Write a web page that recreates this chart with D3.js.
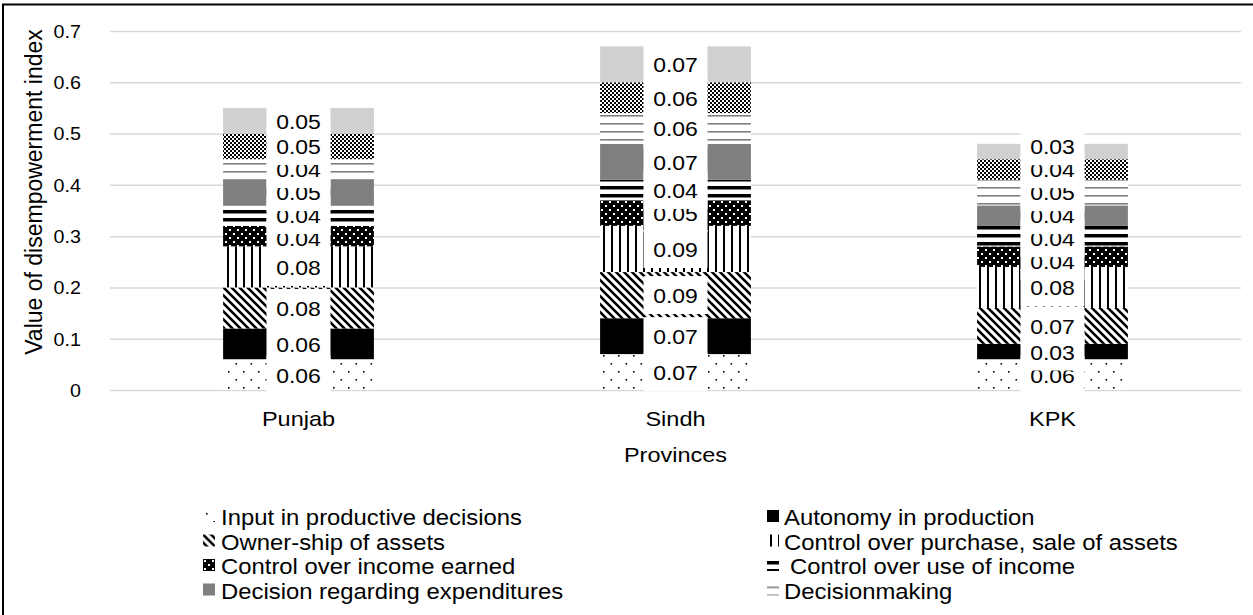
<!DOCTYPE html>
<html>
<head>
<meta charset="utf-8">
<script src="https://cdn.jsdelivr.net/npm/d3@7"></script>
<style>
  html, body { margin: 0; padding: 0; background: #fff; }
  svg { display: block; }
  text { font-family: "Liberation Sans", Arial, sans-serif; fill: #000; }
</style>
</head>
<body>
<svg id="chart" width="1253" height="615"></svg>
<script>
// ---- data ----
const provinces = ["Punjab", "Sindh", "KPK"];

const indicatorNames = [
  "Input in productive decisions",
  "Autonomy in production",
  "Owner-ship of assets",
  "Control over purchase, sale of assets",
  "Control over income earned",
  "Control over use of income",
  "Decision regarding expenditures",
  "Decisionmaking",
  "Group membership",
  "Workload"
];

// values per province (Punjab, Sindh, KPK)
const inputDecisions   = [0.06, 0.07, 0.06];
const autonomy         = [0.06, 0.07, 0.03];
const ownership        = [0.08, 0.09, 0.07];
const purchaseSale     = [0.08, 0.09, 0.08];
const incomeEarned     = [0.04, 0.05, 0.04];
const useOfIncome      = [0.04, 0.04, 0.04];
const expenditures     = [0.05, 0.07, 0.04];
const decisionmaking   = [0.04, 0.06, 0.05];
const groupMembership  = [0.05, 0.06, 0.04];
const workload         = [0.05, 0.07, 0.03];

const yTickValues = [0, 0.1, 0.2, 0.3, 0.4, 0.5, 0.6, 0.7];
const yTickLabels = ["0", "0.1", "0.2", "0.3", "0.4", "0.5", "0.6", "0.7"];

// legend shows the first eight indicators, in two columns
const legendLeft  = ["Input in productive decisions", "Owner-ship of assets",
                     "Control over income earned", "Decision regarding expenditures"];
const legendRight = ["Autonomy in production", "Control over purchase, sale of assets",
                     "Control over use of income", "Decisionmaking"];

// ---- build table for the stack ----
const columns = [inputDecisions, autonomy, ownership, purchaseSale, incomeEarned,
                 useOfIncome, expenditures, decisionmaking, groupMembership, workload];
const table = provinces.map((p, i) => {
  const row = { province: p };
  indicatorNames.forEach((n, k) => { row[n] = columns[k][i]; });
  return row;
});
const stacked = d3.stack().keys(indicatorNames)(table);

// ---- canvas ----
const svg = d3.select("#chart");
const W = 1253, H = 615;
const SX = 1.12; // horizontal text stretch

svg.append("rect").attr("width", W).attr("height", H).attr("fill", "#fff");

// ---- fill patterns ----
const defs = svg.append("defs");
function makePattern(id, w, h, bg, draw) {
  const p = defs.append("pattern").attr("id", id)
    .attr("patternUnits", "userSpaceOnUse").attr("width", w).attr("height", h);
  p.append("rect").attr("width", w).attr("height", h).attr("fill", bg);
  draw(p);
}
makePattern("pInput", 15, 16, "#fff", p => {
  p.append("rect").attr("x", 3).attr("y", 3).attr("width", 1.6).attr("height", 1.6).attr("fill", "#000");
  p.append("rect").attr("x", 10.5).attr("y", 11).attr("width", 1.6).attr("height", 1.6).attr("fill", "#000");
});
makePattern("pOwn", 8, 8, "#fff", p => {
  p.append("path").attr("d", "M-1,-1L9,9M-5,3L5,13M3,-5L13,5")
    .attr("stroke", "#000").attr("stroke-width", 2.6);
});
makePattern("pPurchase", 8, 8, "#fff", p => {
  p.append("rect").attr("x", 3).attr("y", 0).attr("width", 2).attr("height", 8).attr("fill", "#000");
});
makePattern("pEarned", 8, 8, "#000", p => {
  p.append("rect").attr("x", 1).attr("y", 1).attr("width", 2).attr("height", 2).attr("fill", "#fff");
  p.append("rect").attr("x", 5).attr("y", 5).attr("width", 2).attr("height", 2).attr("fill", "#fff");
});
makePattern("pUse", 8, 8, "#fff", p => {
  p.append("rect").attr("x", 0).attr("y", 2).attr("width", 8).attr("height", 3.5).attr("fill", "#000");
});
makePattern("pDecision", 8, 8, "#fff", p => {
  p.append("rect").attr("x", 0).attr("y", 3).attr("width", 8).attr("height", 1.6).attr("fill", "#7f7f7f");
});
makePattern("pChecker", 4, 4, "#fff", p => {
  p.append("rect").attr("x", 0).attr("y", 0).attr("width", 2).attr("height", 2).attr("fill", "#000");
  p.append("rect").attr("x", 2).attr("y", 2).attr("width", 2).attr("height", 2).attr("fill", "#000");
});

const fills = {
  "Input in productive decisions": "url(#pInput)",
  "Autonomy in production": "#000",
  "Owner-ship of assets": "url(#pOwn)",
  "Control over purchase, sale of assets": "url(#pPurchase)",
  "Control over income earned": "url(#pEarned)",
  "Control over use of income": "url(#pUse)",
  "Decision regarding expenditures": "#7f7f7f",
  "Decisionmaking": "url(#pDecision)",
  "Group membership": "url(#pChecker)",
  "Workload": "#d0d0d0"
};

// ---- scales ----
const x = d3.scaleBand().domain(provinces).range([110, 1241]).padding(0);
const y = d3.scaleLinear().domain([0, 0.7]).range([390, 31]);
const barW = x.bandwidth() * 0.4;

// gridlines
const grid = svg.append("g").attr("transform", "translate(110,0)")
  .call(d3.axisLeft(y).tickValues(yTickValues).tickSize(-1131).tickFormat(""));
grid.select(".domain").remove();
grid.selectAll("line").attr("stroke", "#d9d9d9").attr("stroke-width", 1.5);

// y tick labels
const yAxis = svg.append("g").attr("transform", "translate(81,0)")
  .call(d3.axisLeft(y).tickValues(yTickValues).tickSize(0).tickPadding(0)
    .tickFormat((d, i) => yTickLabels[i]));
yAxis.select(".domain").remove();
yAxis.selectAll("text")
  .attr("x", 0).attr("dy", null).attr("y", 6.3)
  .attr("transform", `scale(${SX},1)`)
  .style("font-family", '"Liberation Sans", Arial, sans-serif')
  .style("font-size", "17.6px").attr("fill", "#000");

// x category labels
const xAxis = svg.append("g").attr("transform", "translate(0,426)")
  .call(d3.axisBottom(x).tickSize(0).tickPadding(0));
xAxis.select(".domain").remove();
xAxis.selectAll("text")
  .attr("y", 0).attr("dy", null)
  .attr("transform", `scale(${SX},1)`)
  .style("font-family", '"Liberation Sans", Arial, sans-serif')
  .style("font-size", "21px").attr("fill", "#000");

// axis titles
svg.append("text")
  .attr("transform", `translate(675.5,462) scale(${SX},1)`)
  .attr("text-anchor", "middle").style("font-size", "21px").text("Provinces");
svg.append("text")
  .attr("transform", "translate(42,192) rotate(-90)")
  .attr("text-anchor", "middle").style("font-size", "23px").text("Value of disempowerment index");

// ---- stacked bars ----
const layers = svg.append("g").selectAll("g").data(stacked).join("g")
  .attr("fill", d => fills[d.key]);
layers.selectAll("rect").data(d => d).join("rect")
  .attr("x", d => x(d.data.province) + (x.bandwidth() - barW) / 2)
  .attr("width", barW)
  .attr("y", d => y(d[1]))
  .attr("height", d => y(d[0]) - y(d[1]));

// ---- data labels on white boxes ----
// label centres start at the segment middles; crowded neighbours are
// spread apart around their common centre so the numbers stay readable
const MIN_GAP = 23;
function spreadLabels(centres) {
  // centres sorted top-to-bottom (ascending y)
  let clusters = [];
  centres.forEach(c => {
    clusters.push({ items: [c], mean: c.pos });
    let merged = true;
    while (merged && clusters.length > 1) {
      merged = false;
      const b = clusters[clusters.length - 1];
      const a = clusters[clusters.length - 2];
      const aBottom = a.mean + (a.items.length - 1) * MIN_GAP / 2;
      const bTop = b.mean - (b.items.length - 1) * MIN_GAP / 2;
      if (bTop - aBottom < MIN_GAP) {
        const items = a.items.concat(b.items);
        const mean = d3.mean(items, d => d.pos);
        clusters.splice(clusters.length - 2, 2, { items, mean });
        merged = true;
      }
    }
  });
  clusters.forEach(cl => {
    const top = cl.mean - (cl.items.length - 1) * MIN_GAP / 2;
    cl.items.forEach((it, i) => { it.placed = top + i * MIN_GAP; });
  });
}

const labelG = svg.append("g");
provinces.forEach((prov, pi) => {
  const cx = x(prov) + x.bandwidth() / 2;
  const items = stacked.map(layer => {
    const d = layer[pi];
    return { value: d[1] - d[0], pos: (y(d[0]) + y(d[1])) / 2 };
  });
  const sortedTopDown = items.slice().sort((a, b) => a.pos - b.pos);
  spreadLabels(sortedTopDown);
  // draw in stacking order so upper labels sit over lower ones
  items.forEach(it => {
    const g = labelG.append("g");
    g.append("rect")
      .attr("x", cx - 32).attr("y", it.placed - 19)
      .attr("width", 64).attr("height", 38).attr("fill", "#fff");
    g.append("text")
      .attr("transform", `translate(${cx},${it.placed + 8}) scale(${SX},1)`)
      .attr("text-anchor", "middle").style("font-size", "20.5px")
      .text(d3.format(".2f")(it.value));
  });
});

// ---- legend ----
function legendColumn(items, swatchX, textX) {
  items.forEach((name, i) => {
    const base = 525 + i * 24.5;
    // swatch drawn in its own local frame so each pattern starts at the swatch corner
    svg.append("g")
      .attr("transform", `translate(${swatchX},${base - 15})`)
      .append("rect")
      .attr("width", 12).attr("height", 12)
      .attr("fill", fills[name]);
    const tx = name === "Control over use of income" ? textX + 6 : textX;
    svg.append("text")
      .attr("transform", `translate(${tx},${base}) scale(${SX},1)`)
      .style("font-size", "21.3px").text(name);
  });
}
legendColumn(legendLeft, 203, 221);
legendColumn(legendRight, 767, 784);

// chart border (left and top edges fall inside the view)
svg.append("rect")
  .attr("x", 3).attr("y", 4.5).attr("width", 1300).attr("height", 700)
  .attr("fill", "none").attr("stroke", "#000").attr("stroke-width", 2);
</script>
</body>
</html>
